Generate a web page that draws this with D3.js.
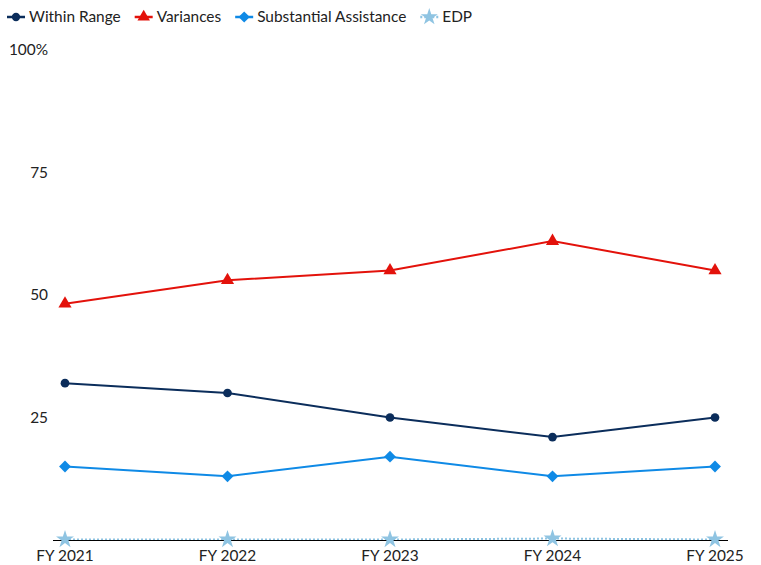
<!DOCTYPE html>
<html>
<head>
<meta charset="utf-8">
<script src="https://cdn.jsdelivr.net/npm/d3@7"></script>
<style>
body { margin: 0; background: #fff; font-family: Lato, "Noto Sans", sans-serif; }
text { font-family: Lato, "Noto Sans", sans-serif; fill: #222; }
</style>
</head>
<body>
<div id="chart"></div>
<script>
var years = ["FY 2021", "FY 2022", "FY 2023", "FY 2024", "FY 2025"];
var within_range = [32, 30, 25, 21, 25];
var variances = [48.2, 53, 55, 61, 55];
var substantial = [15, 13, 17, 13, 15];
var edp = [0.1, 0.1, 0.1, 0.3, 0.1];
var y_ticks = [25, 50, 75, 100];

// diamond drawn as a rotated square, so it looks like the reference
var squareDiamond = {
    draw: function (context, size) {
        var r = Math.sqrt(size / 2);
        context.moveTo(0, -r);
        context.lineTo(r, 0);
        context.lineTo(0, r);
        context.lineTo(-r, 0);
        context.closePath();
    }
};

var series = [
    {name: "Within Range", values: within_range, color: "#0b2d5b", symbol: d3.symbolCircle, size: 60, dash: null},
    {name: "Variances", values: variances, color: "#e3120b", symbol: d3.symbolTriangle, size: 75, dash: null},
    {name: "Substantial Assistance", values: substantial, color: "#0f8ae6", symbol: squareDiamond, size: 70, dash: null},
    {name: "EDP", values: edp, color: "#8fc4e2", symbol: d3.symbolStar, size: 100, dash: "2,2"}
];

var width = 761, height = 565;
var svg = d3.select("#chart").append("svg")
    .attr("width", width)
    .attr("height", height);

var x = d3.scalePoint().domain(years).range([65, 715]);
var y = d3.scaleLinear().domain([0, 100]).range([540, 50]);

// y labels (no axis line)
svg.selectAll("text.ylab").data(y_ticks).join("text")
    .attr("class", "ylab")
    .attr("x", 48)
    .attr("y", d => y(d))
    .attr("dy", "0.35em")
    .attr("text-anchor", "end")
    .style("font-size", "15.4px")
    .text(d => d == 100 ? "100%" : d);

// x labels
svg.selectAll("text.xlab").data(years).join("text")
    .attr("class", "xlab")
    .attr("x", d => x(d))
    .attr("y", 556)
    .attr("dy", "0.35em")
    .attr("text-anchor", "middle")
    .style("font-size", "15.4px")
    .text(d => d);

var line = d3.line()
    .x((d, i) => x(years[i]))
    .y(d => y(d));

series.slice().reverse().forEach(function (s) {
    svg.append("path")
        .datum(s.values)
        .attr("d", line)
        .style("fill", "none")
        .style("stroke", s.color)
        .style("stroke-width", 2)
        .style("stroke-dasharray", s.dash);
    if (s.name == "EDP") {
        // baseline sits between the dotted line and the stars
        svg.append("line")
            .attr("x1", 53).attr("x2", 728)
            .attr("y1", y(0) + 0.5).attr("y2", y(0) + 0.5)
            .style("stroke", "#000").style("stroke-width", 1.2);
    }
    svg.selectAll(null).data(s.values).join("path")
        .attr("d", d3.symbol().type(s.symbol).size(s.size))
        .attr("transform", (d, i) => "translate(" + x(years[i]) + "," + y(d) + ")")
        .style("fill", s.color);
});

// legend
var lx = 7;
series.forEach(function (s) {
    var g = svg.append("g").attr("transform", "translate(" + lx + ",17)");
    g.append("line").attr("x1", 0).attr("x2", 18)
        .style("stroke", s.color).style("stroke-width", 2.5)
        .style("stroke-dasharray", s.dash);
    g.append("path")
        .attr("d", d3.symbol().type(s.symbol).size(s.size * 0.9))
        .attr("transform", "translate(9,0)")
        .style("fill", s.color);
    var t = g.append("text").attr("x", 22).attr("dy", "0.35em")
        .style("font-size", "15.4px").text(s.name);
    lx += 22 + t.node().getComputedTextLength() + 14;
});
</script>
</body>
</html>
